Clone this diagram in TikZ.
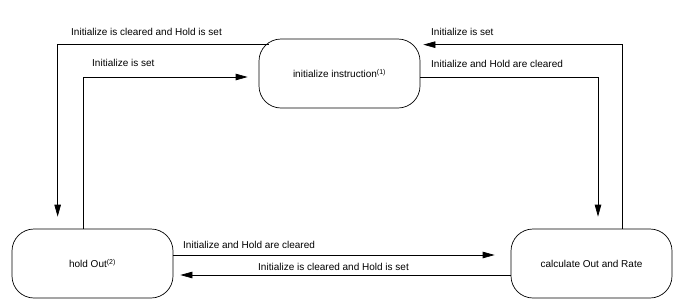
\documentclass[tikz,border=0pt]{standalone}
\usepackage{fontspec}
\setmainfont{Liberation Sans}
\usetikzlibrary{arrows.meta,calc}
\begin{document}
\begin{tikzpicture}[x=1pt,y=1pt,
  state/.style={draw,line width=0.7pt,rounded corners=22pt,minimum width=161pt,minimum height=69pt,inner sep=0pt,font=\fontsize{10}{12}\selectfont},
  conn/.style={line width=0.7pt},
  arr/.style={conn,-{Triangle[length=12pt,width=6.5pt]}},
  lbl/.style={anchor=west,inner sep=0pt,font=\fontsize{10}{12}\selectfont}]
\useasboundingbox (0,0) rectangle (677,-303);
\node[state] (init) at (339.5,-73.5) {initialize instruction\textsuperscript{(1)}};
\node[state] (hold) at (92.5,-263.5) {hold Out\textsuperscript{(2)}};
\node[state] (calc) at (591.5,-263.5) {calculate Out and Rate};
% top-left loop
\coordinate (c1) at ($(init.north west)+(10,-6)$);
\coordinate (t1) at ($(hold.north west)+(46,12)$);
\draw[arr] (c1) -| (t1);
\node[lbl] (l1) at (71,-32) {Initialize is cleared and Hold is set};
% inner left
\coordinate (t2) at ($(init.west)+(-11,-3.5)$);
\draw[arr] ($(hold.north)+(-9.5,0)$) |- (t2);
\node[lbl] (l2) at (92,-63) {Initialize is set};
% top-right loop
\coordinate (t3) at ($(init.north east)+(3,-6)$);
\draw[arr] ($(calc.north)+(30.5,0)$) |- (t3);
\node[lbl] (l3) at (431,-32) {Initialize is set};
% inner right
\coordinate (t4) at ($(calc.north)+(6.5,12)$);
\draw[arr] ($(init.east)+(0,-3.5)$) -| (t4);
\node[lbl] (l4) at (431,-64) {Initialize and Hold are cleared};
% bottom
\coordinate (t5) at ($(calc.west)+(-16,8.5)$);
\draw[arr] ($(hold.east)+(0,8.5)$) -- (t5);
\node[lbl] (l5) at (183,-244.5) {Initialize and Hold are cleared};
\coordinate (t6) at ($(hold.east)+(7,-11.5)$);
\draw[arr] ($(calc.west)+(0,-11.5)$) -- (t6);
\node[lbl] (l6) at (258,-267) {Initialize is cleared and Hold is set};
\end{tikzpicture}
\end{document}
